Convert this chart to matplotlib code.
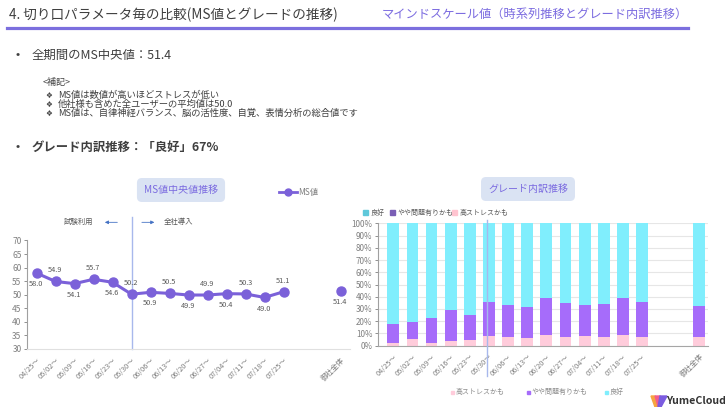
import matplotlib
matplotlib.use("Agg")
import matplotlib.pyplot as plt
from matplotlib.patches import Polygon, Rectangle
from matplotlib.lines import Line2D

plt.rcParams["font.family"] = ["Noto Sans CJK JP", "DejaVu Sans"]

W, H = 725, 407

# ---- data ----
dates = ["04/25～", "05/02～", "05/09～", "05/16～", "05/23～", "05/30～", "06/06～",
         "06/13～", "06/20～", "06/27～", "07/04～", "07/11～", "07/18～", "07/25～"]
total_label = "御社全体"
ms_median = [58.0, 54.9, 54.1, 55.7, 54.6, 50.2, 50.9, 50.5, 49.9, 49.9, 50.4, 50.3, 49.0, 51.1]
ms_total = 51.4

# grade breakdown (%), last value = 御社全体
high_stress = [2.5, 5.8, 2.2, 4.2, 5.0, 7.8, 7.2, 6.4, 8.8, 6.7, 8.0, 6.7, 8.9, 7.5, 7.5]
some_issue = [15.5, 13.9, 20.3, 24.7, 19.7, 27.7, 25.8, 25.6, 29.9, 28.0, 25.3, 27.2, 30.0, 28.0, 25.0]
good = [100 - a - b for a, b in zip(high_stress, some_issue)]

C_TITLE = "#3F3F3F"
C_PURPLE_TXT = "#7B6BE0"
C_LINE = "#7B61D9"
C_VLINE = "#A8B8EC"
C_GOOD, C_MID, C_HIGH = "#80EEFD", "#A66CFA", "#FFCCDB"
C_GRAY = "#7F7F7F"


def fx(x):
    return x / W


def fy(y):
    return 1 - y / H


fig = plt.figure(figsize=(W / 100, H / 100), dpi=100)

# ---- header ----
fig.text(fx(9), fy(15), "4. 切り口パラメータ毎の比較(MS値とグレードの推移)",
         fontsize=9.8, color=C_TITLE, va="center", ha="left")
fig.text(fx(382), fy(14), "マインドスケール値（時系列推移とグレード内訳推移）",
         fontsize=8.8, color=C_PURPLE_TXT, va="center", ha="left")
fig.add_artist(Line2D([fx(7), fx(688)], [fy(27.5), fy(27.5)], color="#7B6FDE", lw=2.3))

fig.text(fx(15), fy(55), "•", fontsize=9, color=C_TITLE, va="center")
fig.text(fx(32), fy(55), "全期間のMS中央値：51.4", fontsize=8.9, color=C_TITLE, va="center")
fig.text(fx(43), fy(82), "<補記>", fontsize=6.5, color=C_TITLE, va="center")
notes = ["MS値は数値が高いほどストレスが低い",
         "他社様も含めた全ユーザーの平均値は50.0",
         "MS値は、自律神経バランス、脳の活性度、自覚、表情分析の総合値です"]
for i, note in enumerate(notes):
    y = 95 + i * 9
    fig.text(fx(45), fy(y), "❖", fontsize=5.5, color=C_TITLE, va="center",
             family=["DejaVu Sans"])
    fig.text(fx(58), fy(y), note, fontsize=6.7, color=C_TITLE, va="center")
fig.text(fx(15), fy(147), "•", fontsize=9, color=C_TITLE, va="center")
fig.text(fx(32), fy(147), "グレード内訳推移：「良好」67%", fontsize=8.9,
         color=C_TITLE, va="center", fontweight="bold")

box = dict(boxstyle="round,pad=0.7,rounding_size=0.5", fc="#DAE3F3", ec="none")

# ---- left: MS median line ----
xpos = list(range(len(dates)))
tick_pos = xpos + [16]
tick_lab = dates + [total_label]

ax1 = fig.add_axes([fx(27), fy(349), fx(350 - 27), (349 - 240.5) / H])
ax1.plot(xpos, ms_median, color=C_LINE, lw=2.2, marker="o", ms=6.5, zorder=3)
ax1.plot([16], [ms_total], color=C_LINE, marker="o", ms=6.5, ls="none", zorder=3)
vals = ms_median + [ms_total]
for i, (x, v) in enumerate(zip(tick_pos, vals)):
    dy = -8 if i % 2 == 0 else 8
    ax1.annotate(f"{v:.1f}", (x, v), xytext=(0, dy), textcoords="offset points",
                 ha="center", va="center", fontsize=5.3, color="#595959")
ax1.set_xlim(-0.5, 16.5)
ax1.set_ylim(30, 70)
ax1.set_yticks(range(30, 71, 5))
ax1.set_xticks(tick_pos, tick_lab, rotation=45, ha="right", rotation_mode="anchor")
ax1.tick_params(axis="y", labelsize=6, colors=C_GRAY, length=2, width=0.6, pad=2)
ax1.tick_params(axis="x", labelsize=5.3, colors=C_GRAY, length=0, pad=5)
for s in ["top", "right"]:
    ax1.spines[s].set_visible(False)
ax1.spines["left"].set_color("#A0A0A0")
ax1.spines["left"].set_linewidth(0.8)
ax1.spines["bottom"].set_color("#E0E0E0")
ax1.plot([5, 5], [30, 78.8], color=C_VLINE, lw=1, clip_on=False, zorder=1)
ax1.text(2.2, 76.7, "試験利用", fontsize=5.3, color="#595959", ha="center", va="center")
ax1.text(7.45, 76.7, "全社導入", fontsize=5.3, color="#595959", ha="center", va="center")
arrow = dict(arrowstyle="-|>", color="#4472C4", lw=0.6, mutation_scale=5)
ax1.annotate("", xy=(3.45, 76.7), xytext=(4.4, 76.7), arrowprops=arrow, annotation_clip=False)
ax1.annotate("", xy=(6.35, 76.7), xytext=(5.4, 76.7), arrowprops=arrow, annotation_clip=False)

fig.text(fx(181), fy(190), "MS値中央値推移", fontsize=7.2, color=C_PURPLE_TXT,
         ha="center", va="center", bbox=box)
fig.add_artist(Line2D([fx(279), fx(297)], [fy(192), fy(192)], color=C_LINE, lw=2))
fig.add_artist(Line2D([fx(288)], [fy(192)], color=C_LINE, marker="o", ms=5))
fig.text(fx(298), fy(192), "MS値", fontsize=6, color=C_GRAY, va="center")

# ---- right: grade breakdown stacked bars ----
bpos = xpos + [16]
ax2 = fig.add_axes([fx(378), fy(345.7), fx(708 - 378), (345.7 - 223.3) / H])
ax2.bar(bpos, high_stress, width=0.62, color=C_HIGH, zorder=2)
ax2.bar(bpos, some_issue, width=0.62, bottom=high_stress, color=C_MID, zorder=2)
bott = [a + b for a, b in zip(high_stress, some_issue)]
ax2.bar(bpos, good, width=0.62, bottom=bott, color=C_GOOD, zorder=2)
ax2.set_xlim(-0.8, 16.45)
ax2.set_ylim(0, 100)
ax2.set_yticks(range(0, 101, 10), [f"{v}%" for v in range(0, 101, 10)])
ax2.set_xticks(bpos, tick_lab, rotation=45, ha="right", rotation_mode="anchor")
ax2.yaxis.grid(True, color="#E6E6E6", lw=0.8, zorder=0)
ax2.set_axisbelow(True)
ax2.tick_params(axis="y", labelsize=5.8, colors=C_GRAY, length=2, width=0.6, pad=2)
ax2.tick_params(axis="x", labelsize=5.3, colors=C_GRAY, length=0, pad=5)
for s in ["top", "right"]:
    ax2.spines[s].set_visible(False)
ax2.spines["left"].set_color("#A0A0A0")
ax2.spines["bottom"].set_color("#A6A6A6")
ax2.plot([4.92, 4.92], [-25, 102.7], color=C_VLINE, lw=1, clip_on=False, zorder=3)

fig.text(fx(528), fy(189), "グレード内訳推移", fontsize=7.2, color=C_PURPLE_TXT,
         ha="center", va="center", bbox=box)

top_leg = [("良好", "#5FC8DA", 363), ("やや問題有りかも", "#7A5EB5", 390),
           ("高ストレスかも", "#FFC4D0", 452)]
for lab, col, x in top_leg:
    fig.add_artist(Rectangle((fx(x), fy(215)), fx(5), 5 / H, color=col))
    fig.text(fx(x + 8), fy(212.5), lab, fontsize=5, color="#595959", va="center")

bot_leg = [("高ストレスかも", C_HIGH, 451), ("やや問題有りかも", C_MID, 527),
           ("良好", C_GOOD, 605)]
for lab, col, x in bot_leg:
    fig.add_artist(Rectangle((fx(x), fy(393.5)), fx(3), 3 / H, color=col))
    fig.text(fx(x + 5), fy(392), lab, fontsize=5, color="#8C8C8C", va="center")

# ---- logo ----
fig.add_artist(Polygon([(fx(651), fy(396)), (fx(655), fy(396)), (fx(659), fy(407)),
                        (fx(655), fy(407))], color="#F7A440"))
fig.add_artist(Polygon([(fx(655), fy(396)), (fx(660), fy(396)), (fx(661), fy(406)),
                        (fx(658), fy(406))], color="#F25C8C"))
fig.add_artist(Polygon([(fx(660), fy(396)), (fx(667), fy(396)), (fx(661), fy(407)),
                        (fx(658), fy(407))], color="#7B5CE0"))
fig.text(fx(666), fy(401), "YumeCloud", fontsize=7.6, color="#333333",
         va="center", fontweight="bold")

fig.savefig("out.png", dpi=100)
